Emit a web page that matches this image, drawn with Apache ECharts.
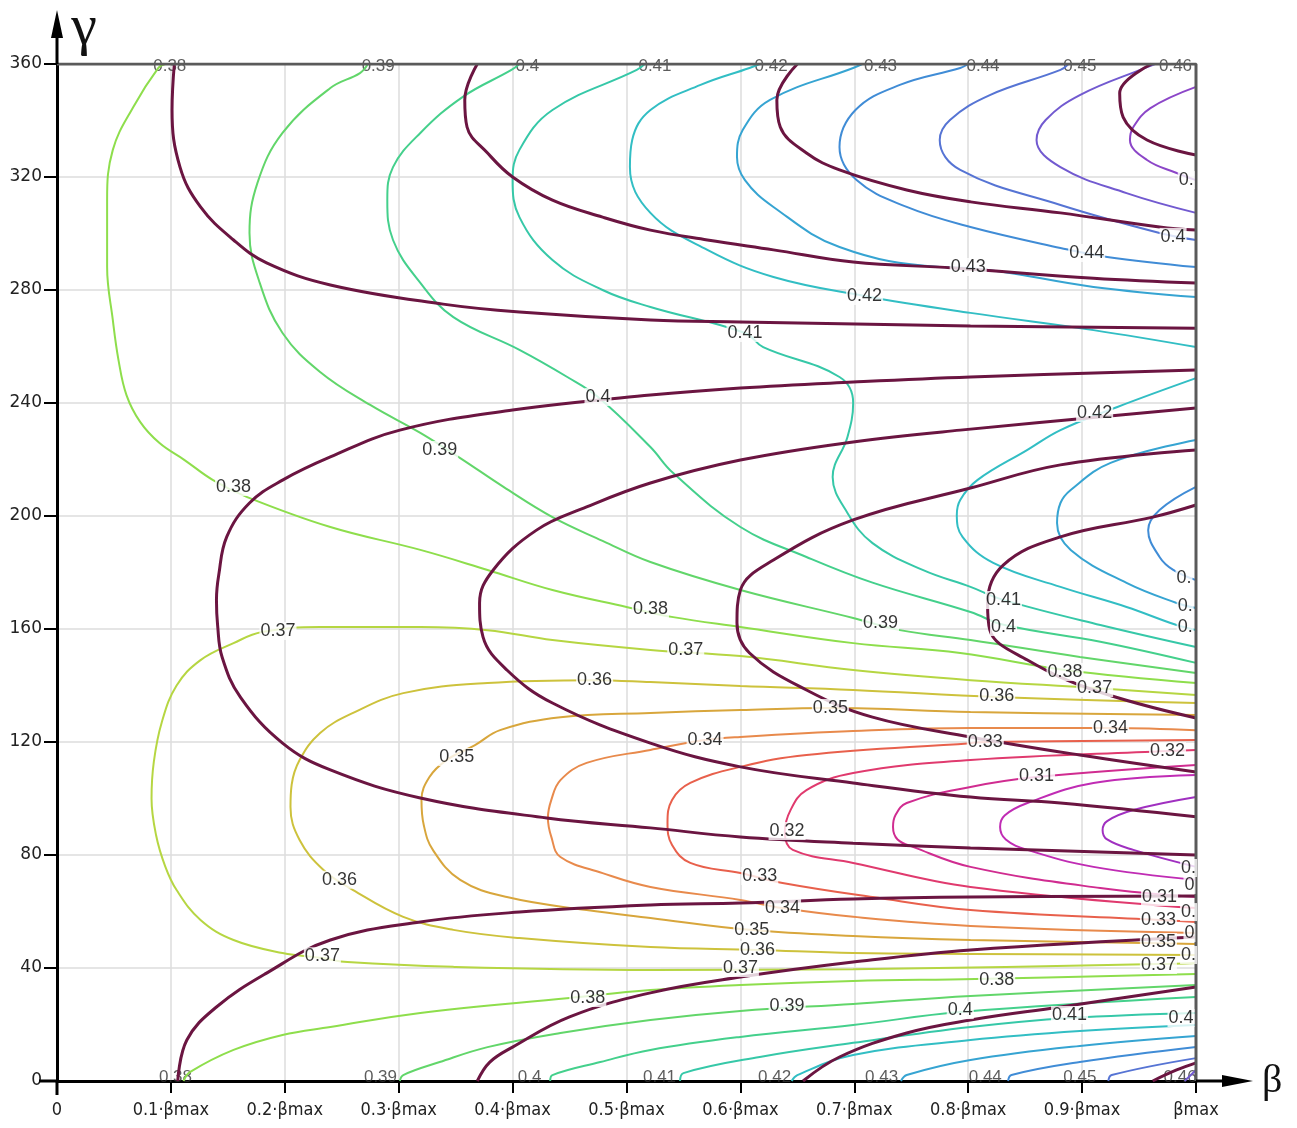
<!DOCTYPE html>
<html><head><meta charset="utf-8">
<script src="https://cdn.jsdelivr.net/npm/echarts@6/dist/echarts.min.js"></script>
<style>html,body{margin:0;padding:0;background:#fff}#c{width:1297px;height:1128px}</style>
</head><body><div id="c"></div>
<script>
// ---------- axis ticks ----------
const xTickLabels = ['0','0.1·βmax','0.2·βmax','0.3·βmax','0.4·βmax','0.5·βmax','0.6·βmax','0.7·βmax','0.8·βmax','0.9·βmax','βmax'];
const plotFrame = [[0,360],[1,360],[1,0]];

// ---------- dark (maroon) family of curves: [beta/betaMax, gamma] ----------
const maroonA = [[0.103,360],[0.101,343.7],[0.108,323.5],[0.126,309.4],[0.155,297.7],[0.184,289.6],[0.240,281.8],[0.339,275.0],[0.406,272.2],[0.521,269.4],[0.600,268.7],[0.802,267.3],[1,266.5]];
const maroonB = [[0.369,360],[0.358,347.3],[0.360,337.7],[0.378,328.5],[0.400,320.0],[0.435,311.8],[0.479,305.8],[0.521,301.2],[0.571,297.7],[0.629,294.2],[0.699,289.9],[0.787,287.8],[0.910,284.2],[1,282.5]];
const maroonC = [[0.650,360],[0.632,347.3],[0.635,337.7],[0.658,328.5],[0.687,322.5],[0.746,315.4],[0.802,311.2],[0.881,307.3],[0.968,302.3],[1,301.2]];
const maroonD = [[0.961,360],[0.933,349.7],[0.936,341.2],[0.957,333.1],[1,327.8]];
const maroonE = [[1,251.7],[0.802,249.2],[0.699,247.4],[0.600,245.3],[0.521,242.8],[0.400,237.5],[0.301,230.4],[0.240,220.9],[0.198,212.7],[0.169,204.6],[0.149,192.6],[0.142,179.1],[0.140,170.3],[0.141,161.4],[0.145,150.0],[0.161,135.9],[0.198,119.6],[0.240,110.1],[0.319,100.2],[0.430,93.1],[0.521,89.6],[0.600,86.4],[0.699,84.2],[0.802,82.5],[1,80.0]];
const maroonF = [[1,238.2],[0.793,230.4],[0.699,226.2],[0.600,219.8],[0.521,211.7],[0.465,203.2],[0.421,195.0],[0.383,180.9],[0.371,169.2],[0.374,157.2],[0.395,145.5],[0.435,133.8],[0.521,119.6],[0.600,111.2],[0.699,105.5],[0.802,100.5],[0.881,98.4],[1,93.5]];
const maroonG = [[1,223.4],[0.881,218.1],[0.802,209.9],[0.699,198.6],[0.629,184.4],[0.600,173.8],[0.597,162.1],[0.608,151.5],[0.658,138.4],[0.716,128.8],[0.802,121.8],[0.898,115.4],[1,109.4]];
const maroonH = [[1,203.9],[0.962,199.6],[0.881,192.6],[0.831,182.7],[0.817,169.2],[0.819,159.6],[0.852,149.0],[0.910,138.4],[1,128.5]];
const maroonI = [[0.106,0],[0.114,14.5],[0.140,26.2],[0.184,38.2],[0.240,49.9],[0.319,56.3],[0.406,59.8],[0.521,62.3],[0.600,63.0],[0.699,64.4],[0.802,65.1],[1,65.5]];
const maroonJ = [[0.369,0],[0.380,6.7],[0.400,12.0],[0.450,22.7],[0.521,31.2],[0.600,36.8],[0.699,42.1],[0.802,46.4],[1,51.0]];
const maroonK = [[0.655,0],[0.687,8.5],[0.746,17.0],[0.802,21.6],[0.881,26.2],[1,33.3]];
const maroonL = [[0.962,0],[0.983,3.9],[1,6.4]];

// ---------- coloured contour lines ----------
const c29 = [[1,100.5],[0.945,95.9],[0.922,92.0],[0.918,88.8],[0.922,85.5],[0.945,81.8],[1,75.8]];
const c30 = [[1,108.3],[0.910,105.5],[0.852,98.4],[0.832,94.0],[0.828,89.9],[0.833,85.5],[0.852,81.8],[0.910,75.8],[1,71.2]];
const c31 = [[1,111.9],[0.860,107.6],[0.802,104.1],[0.746,98.4],[0.736,94.0],[0.734,89.9],[0.738,85.5],[0.752,82.8],[0.802,75.8],[0.916,68.3],[1,65.1]];
const c32 = [[1,117.2],[0.975,116.8],[0.802,113.6],[0.699,109.0],[0.658,103.0],[0.644,95.9],[0.639,88.1],[0.646,81.8],[0.699,77.2],[0.802,68.7],[1,61.2]];
const c33 = [[1,120.7],[0.815,120.0],[0.802,119.6],[0.658,115.4],[0.600,111.2],[0.556,105.5],[0.540,99.5],[0.536,91.3],[0.540,83.5],[0.556,77.2],[0.600,73.6],[0.637,70.1],[0.716,65.1],[0.802,60.5],[0.967,57.0],[1,56.3]];
const c34 = [[1,124.2],[0.925,125.0],[0.802,125.0],[0.699,123.9],[0.600,121.8],[0.569,120.7],[0.521,117.2],[0.465,112.6],[0.442,106.5],[0.434,99.5],[0.431,93.1],[0.434,86.4],[0.442,79.3],[0.479,73.6],[0.521,68.7],[0.600,64.1],[0.637,61.2],[0.699,58.1],[0.802,54.9],[1,52.4]];
const c35 = [[1,129.6],[0.802,130.6],[0.680,132.0],[0.600,131.3],[0.521,130.3],[0.442,128.8],[0.389,124.2],[0.367,118.9],[0.342,113.6],[0.327,107.6],[0.320,99.5],[0.322,90.6],[0.330,81.8],[0.354,71.2],[0.395,65.1],[0.465,60.5],[0.521,57.7],[0.608,53.5],[0.699,51.3],[0.802,49.9],[0.967,48.8],[1,48.5]];
const c36 = [[1,133.8],[0.825,135.9],[0.699,138.4],[0.600,139.8],[0.521,141.2],[0.472,141.9],[0.378,140.9],[0.304,137.3],[0.260,130.3],[0.231,123.2],[0.213,113.6],[0.206,104.8],[0.205,97.0],[0.213,85.3],[0.234,74.7],[0.260,67.6],[0.304,58.1],[0.348,53.5],[0.406,50.6],[0.521,47.4],[0.615,46.4],[0.699,45.3],[0.802,45.0],[1,44.6]];
const c37 = [[1,136.6],[0.911,139.1],[0.802,141.9],[0.699,145.5],[0.600,150.4],[0.521,152.6],[0.435,156.1],[0.378,159.6],[0.319,160.7],[0.231,160.7],[0.180,158.9],[0.155,155.0],[0.126,149.0],[0.105,140.0],[0.092,127.0],[0.085,113.0],[0.083,100.0],[0.087,87.0],[0.095,76.0],[0.105,67.6],[0.126,57.0],[0.155,49.9],[0.198,45.3],[0.233,43.5],[0.255,42.1],[0.348,40.4],[0.521,39.3],[0.699,39.6],[0.967,41.4],[1,41.8]];
const c38top = [[0.095,360],[0.089,358.6],[0.067,344.8],[0.049,329.6],[0.044,311.9],[0.044,288.1],[0.049,269.4],[0.054,255.2],[0.061,242.8],[0.073,233.3],[0.090,225.8],[0.112,219.8],[0.137,212.7],[0.167,206.7],[0.240,196.1],[0.319,188.0],[0.378,180.9],[0.435,173.8],[0.500,167.8],[0.541,164.2],[0.600,160.7],[0.699,155.0],[0.793,151.5],[0.885,145.5],[1,140.9]];
const c38bot = [[0.111,0],[0.117,3.2],[0.155,11.0],[0.198,16.3],[0.240,19.1],[0.319,24.1],[0.450,29.4],[0.521,32.2],[0.600,34.0],[0.699,35.4],[0.806,36.1],[1,37.9]];
const c39top = [[0.273,360],[0.266,356.8],[0.240,351.5],[0.198,335.6],[0.176,317.9],[0.169,300.2],[0.178,282.5],[0.198,264.8],[0.231,251.0],[0.275,239.3],[0.319,229.4],[0.354,220.5],[0.392,210.3],[0.435,199.6],[0.479,191.2],[0.521,183.7],[0.600,173.8],[0.699,163.9],[0.740,159.6],[0.802,156.1],[0.898,150.1],[1,144.4]];
const c39bot = [[0.301,0],[0.304,2.1],[0.336,6.7],[0.378,12.0],[0.442,17.0],[0.521,21.6],[0.600,24.8],[0.699,27.3],[0.802,30.1],[1,34.0]];
const c40top = [[0.406,360],[0.399,357.9],[0.356,348.3],[0.319,335.6],[0.295,323.5],[0.290,311.9],[0.295,297.7],[0.319,282.5],[0.348,270.4],[0.406,258.8],[0.448,249.2],[0.475,242.1],[0.521,224.4],[0.541,215.2],[0.600,196.1],[0.658,185.5],[0.716,176.4],[0.802,166.0],[0.831,161.5],[0.916,155.5],[1,148.0]];
const c40bot = [[0.433,0],[0.435,2.1],[0.477,6.7],[0.521,11.0],[0.600,15.6],[0.699,19.8],[0.793,24.4],[1,29.7]];
const c41top = [[0.516,360],[0.509,357.9],[0.435,343.7],[0.406,329.6],[0.400,318.9],[0.406,305.8],[0.435,290.6],[0.479,280.0],[0.521,274.0],[0.604,264.8],[0.620,259.8],[0.687,249.2],[0.699,240.0],[0.694,228.0],[0.681,213.8],[0.694,201.1],[0.716,190.4],[0.760,180.9],[0.802,174.9],[0.831,170.3],[0.916,161.4],[1,153.6]];
const c41bot = [[0.547,0],[0.550,2.8],[0.617,8.5],[0.699,13.5],[0.802,19.1],[0.889,22.3],[1,24.1]];
const c42top = [[0.617,360],[0.608,358.6],[0.565,352.6],[0.521,343.7],[0.505,333.1],[0.503,323.5],[0.521,307.3],[0.571,294.2],[0.629,284.6],[0.709,277.9],[0.802,271.9],[0.910,265.8],[1,259.8]];
const c42mid = [[1,248.8],[0.931,238.6],[0.881,230.4],[0.852,223.4],[0.808,212.7],[0.793,205.7],[0.790,200.4],[0.795,192.6],[0.822,183.4],[0.881,174.9],[0.939,167.8],[0.983,161.4],[1,159.6]];
const c42bot = [[0.645,0],[0.650,2.1],[0.699,9.2],[0.802,14.5],[0.898,17.7],[1,19.8]];
const c43top = [[0.707,360],[0.699,358.6],[0.626,347.3],[0.602,336.6],[0.597,327.1],[0.604,318.9],[0.629,309.4],[0.687,295.2],[0.775,288.1],[0.800,287.8],[0.910,281.1],[1,277.5]];
const c43mid = [[1,226.9],[0.925,218.8],[0.890,209.2],[0.881,204.6],[0.878,197.5],[0.890,188.0],[0.939,176.3],[0.983,169.2],[1,167.4]];
const c43bot = [[0.741,0],[0.746,2.1],[0.802,7.4],[0.898,12.4],[1,15.9]];
const c44top = [[0.800,360],[0.793,358.6],[0.740,352.6],[0.701,343.7],[0.687,330.6],[0.702,318.9],[0.746,309.4],[0.802,302.3],[0.881,294.9],[0.922,291.7],[1,288.1]];
const c44mid = [[1,210.3],[0.968,202.1],[0.958,195.0],[0.968,185.5],[0.980,180.9],[1,177.3]];
const c44bot = [[0.835,0],[0.838,2.1],[0.898,6.7],[1,12.0]];
const c45top = [[0.888,360],[0.881,357.9],[0.819,349.0],[0.784,340.2],[0.775,333.1],[0.793,322.5],[0.881,310.1],[0.968,300.2],[1,297.7]];
const c45bot = [[0.923,0],[0.926,2.1],[1,8.1]];
const c46top = [[0.964,360],[0.957,358.9],[0.898,349.0],[0.868,340.2],[0.860,333.1],[0.881,323.5],[0.939,314.3],[1,307.3]];
const c46bot = [[0.990,0],[1,3.9]];
const c47top = [[1,351.9],[0.960,344.4],[0.945,337.7],[0.942,333.1],[0.957,326.0],[0.983,321.4],[1,318.9]];

// ---------- contour labels: [text, beta, gamma] ----------
const innerLabels = [
 ['0.38',0.155,210.3],['0.39',0.336,223.4],['0.4',0.475,242.1],['0.41',0.604,264.8],['0.42',0.709,277.9],
 ['0.43',0.800,288.1],['0.44',0.904,293.1],['0.42',0.911,236.5],['0.41',0.831,170.3],['0.4',0.831,160.7],
 ['0.38',0.521,167.1],['0.39',0.723,162.1],['0.37',0.194,159.3],['0.37',0.552,152.6],['0.38',0.885,144.8],
 ['0.37',0.911,139.1],['0.36',0.472,141.9],['0.36',0.825,136.3],['0.35',0.679,132.0],['0.34',0.569,120.7],
 ['0.33',0.815,120.0],['0.34',0.925,125.0],['0.32',0.975,116.8],['0.35',0.351,114.7],['0.31',0.860,108.0],
 ['0.32',0.641,88.5],['0.33',0.617,72.6],['0.36',0.248,71.2],['0.34',0.637,61.2],['0.35',0.610,53.5],
 ['0.36',0.615,46.4],['0.37',0.600,40.0],['0.37',0.233,44.2],['0.38',0.466,29.4],['0.39',0.641,26.5],
 ['0.38',0.825,35.8],['0.4',0.793,25.1],['0.41',0.889,23.4],['0.31',0.968,65.1],['0.33',0.967,57.0],
 ['0.35',0.967,49.2],['0.37',0.967,41.1]
];
const edgeLabels = [
 ['0.',0.984,318.9],['0.4',0.968,298.8],['0.',0.982,178.1],['0.',0.983,168.1],['0.',0.983,160.7],
 ['0.',0.986,75.4],['0',0.989,69.4],['0.',0.986,59.8],['0',0.989,52.4],['0.',0.986,44.6],['0.4',0.975,22.3]
];
const boundaryLabelText = ['0.38','0.39','0.4','0.41','0.42','0.43','0.44','0.45','0.46'];
const topLabelBeta = [0.099,0.282,0.413,0.525,0.627,0.723,0.813,0.898,0.982];
const bottomLabelBeta = [0.104,0.284,0.415,0.529,0.630,0.724,0.815,0.898,0.986];

// ---------- build ----------
const levelColors = {
 '0.29':'#a030c0','0.30':'#c02cb4','0.31':'#d02c90','0.32':'#e03a6e','0.33':'#e8604c','0.34':'#e88a4c',
 '0.35':'#d8a63c','0.36':'#cdc23c','0.37':'#b6d642','0.38':'#8ede4c','0.39':'#62d66a','0.40':'#44d08c',
 '0.41':'#36c8a8','0.42':'#32bec4','0.43':'#36a4d2','0.44':'#408cd6','0.45':'#5674d4','0.46':'#725ad0','0.47':'#8c46c8'
};
const colouredCurves = [
 [0.29,c29],[0.30,c30],[0.31,c31],[0.32,c32],[0.33,c33],[0.34,c34],[0.35,c35],[0.36,c36],[0.37,c37],
 [0.38,c38top],[0.38,c38bot],[0.39,c39top],[0.39,c39bot],[0.40,c40top],[0.40,c40bot],
 [0.41,c41top],[0.41,c41bot],[0.42,c42top],[0.42,c42mid],[0.42,c42bot],
 [0.43,c43top],[0.43,c43mid],[0.43,c43bot],[0.44,c44top],[0.44,c44mid],[0.44,c44bot],
 [0.45,c45top],[0.45,c45bot],[0.46,c46top],[0.46,c46bot],[0.47,c47top]
];
const maroonCurves = [maroonA,maroonB,maroonC,maroonD,maroonE,maroonF,maroonG,maroonH,maroonI,maroonJ,maroonK,maroonL];

const labelFont = "'Liberation Sans', Arial, sans-serif";
const series = [];
colouredCurves.forEach(([lv, pts]) => {
  series.push({type:'line', data: pts, smooth: 0.4, symbol:'none', silent:true, animation:false, z:2,
    lineStyle:{color: levelColors[lv.toFixed(2)], width:2}});
});
maroonCurves.forEach(pts => {
  series.push({type:'line', data: pts, smooth: 0.4, symbol:'none', silent:true, animation:false, z:3,
    lineStyle:{color:'#6b1541', width:3}});
});
series.push({type:'line', data: plotFrame, symbol:'none', silent:true, animation:false, z:4,
  lineStyle:{color:'#5a5a5a', width:3}});
series.push({type:'scatter', silent:true, animation:false, z:5, symbol:'circle', symbolSize:1,
  itemStyle:{color:'rgba(0,0,0,0)'},
  data: innerLabels.map(l => [l[1], l[2], l[0]]),
  label:{show:true, position:'inside', formatter: p => p.data[2], fontSize:18, color:'#000',
    fontFamily: labelFont, backgroundColor:'#fff', padding:[0,1]}});
series.push({type:'scatter', silent:true, animation:false, z:5, symbol:'circle', symbolSize:1,
  itemStyle:{color:'rgba(0,0,0,0)'},
  data: edgeLabels.map(l => [l[1], l[2], l[0]]),
  label:{show:true, position:'inside', align:'left', formatter: p => p.data[2], fontSize:18, color:'#000',
    fontFamily: labelFont, backgroundColor:'#fff', padding:[0,1]}});
series.push({type:'scatter', silent:true, animation:false, z:1, symbol:'circle', symbolSize:1,
  itemStyle:{color:'rgba(0,0,0,0)'},
  data: topLabelBeta.map((b,i) => [b, 360, boundaryLabelText[i]]),
  label:{show:true, position:'inside', offset:[0,2], formatter: p => p.data[2], fontSize:17, color:'#333', fontFamily: labelFont}});
series.push({type:'scatter', silent:true, animation:false, z:1, symbol:'circle', symbolSize:1,
  itemStyle:{color:'rgba(0,0,0,0)'},
  data: bottomLabelBeta.map((b,i) => [b, 0, boundaryLabelText[i]]),
  label:{show:true, position:'inside', offset:[0,-4], formatter: p => p.data[2], fontSize:17, color:'#333', fontFamily: labelFont}});

const chart = echarts.init(document.getElementById('c'), null, {renderer:'canvas'});
chart.setOption({
  backgroundColor:'#fff',
  animation:false,
  grid:{left:57, right:101, top:64, bottom:47},
  xAxis:{type:'value', min:0, max:1, interval:0.1,
    name:'β', nameLocation:'end', nameGap:66,
    nameTextStyle:{fontSize:40, fontFamily:"'Liberation Serif','DejaVu Serif',serif", color:'#111'},
    axisLine:{show:true, onZero:false, lineStyle:{color:'#000', width:3}},
    axisTick:{show:true, length:12, lineStyle:{color:'#000', width:2}},
    axisLabel:{margin:20, fontSize:18, color:'#222',
      fontFamily:"'Liberation Sans Narrow','DejaVu Sans Condensed','Arial Narrow',sans-serif",
      formatter: v => xTickLabels[Math.round(v*10)]},
    splitLine:{show:true, lineStyle:{color:'#dcdcdc', width:1.5}}},
  yAxis:{type:'value', min:0, max:360, interval:40,
    name:'γ', nameLocation:'end', nameGap:6,
    nameTextStyle:{fontSize:58, fontFamily:"'Liberation Serif','DejaVu Serif',serif", color:'#111', padding:[0,0,0,54]},
    axisLine:{show:true, onZero:false, lineStyle:{color:'#000', width:3}},
    axisTick:{show:true, length:13, lineStyle:{color:'#000', width:2}},
    axisLabel:{margin:15, fontSize:17, color:'#222', fontFamily:"'DejaVu Sans',sans-serif"},
    splitLine:{show:true, lineStyle:{color:'#dcdcdc', width:1.5}}},
  series: series
});

// axis extensions with arrow heads, positioned from the axes' own scales
const o = chart.convertToPixel({gridIndex:0},[0,0]);
const xe = chart.convertToPixel({gridIndex:0},[1,0]);
const ye = chart.convertToPixel({gridIndex:0},[0,360]);
chart.setOption({graphic:[
  {type:'line', z:100, shape:{x1:o[0]-18, y1:o[1], x2:o[0], y2:o[1]}, style:{stroke:'#000', lineWidth:3}},
  {type:'line', z:100, shape:{x1:o[0], y1:o[1], x2:o[0], y2:o[1]+14}, style:{stroke:'#000', lineWidth:3}},
  {type:'line', z:100, shape:{x1:xe[0], y1:xe[1], x2:xe[0]+30, y2:xe[1]}, style:{stroke:'#000', lineWidth:3}},
  {type:'polygon', z:100, shape:{points:[[xe[0]+26,xe[1]-6],[xe[0]+57,xe[1]],[xe[0]+26,xe[1]+6]]}, style:{fill:'#000'}},
  {type:'line', z:100, shape:{x1:ye[0], y1:ye[1], x2:ye[0], y2:ye[1]-28}, style:{stroke:'#000', lineWidth:3}},
  {type:'polygon', z:100, shape:{points:[[ye[0]-6,ye[1]-26],[ye[0],ye[1]-54],[ye[0]+6,ye[1]-26]]}, style:{fill:'#000'}}
]});
</script></body></html>
